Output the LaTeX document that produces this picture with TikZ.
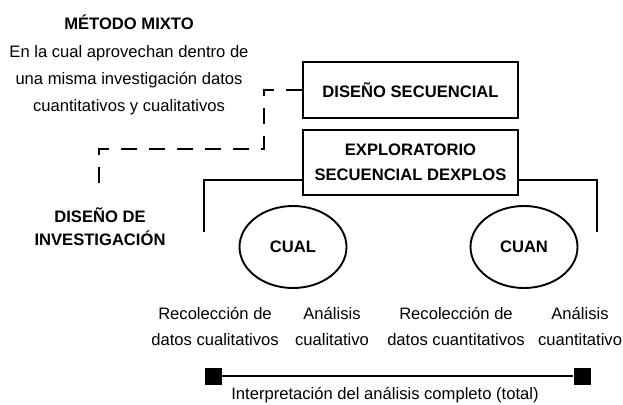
\documentclass[tikz,border=0pt]{standalone}
\usepackage{fontspec}
\setmainfont{Liberation Sans}
\usetikzlibrary{positioning,shapes.geometric}

\begin{document}
\begin{tikzpicture}[x=1pt, y=-1pt,
  font=\fontsize{16.6}{25}\selectfont,
  box/.style={draw, line width=2.2pt, align=center, font=\fontsize{16.6}{25}\selectfont\bfseries,
              minimum width=215pt, inner sep=2pt},
  oval/.style={ellipse, draw, line width=1.9pt, minimum width=107pt,
               minimum height=82pt, font=\fontsize{16.6}{25}\selectfont\bfseries},
  txt/.style={align=center, inner sep=1pt},
  ttl/.style={align=center, inner sep=1pt, font=\fontsize{16.6}{23}\selectfont\bfseries},
  sq/.style={fill=black, minimum size=17pt, inner sep=0pt},
  link/.style={line width=2pt},
  dashlink/.style={line width=2.6pt, dash pattern=on 16pt off 12pt}]
\useasboundingbox (0,0) rectangle (623,404);
\node[ttl] (metodo) at (129,22) {MÉTODO MIXTO};
\node[txt, font=\fontsize{16.6}{27}\selectfont] (desc) at (129,80)
  {En la cual aprovechan dentro de\\una misma investigación datos\\cuantitativos y cualitativos};
\node[ttl] (diseno) at (100,227) {DISEÑO DE\\INVESTIGACIÓN};
\node[box, minimum height=56pt] (secuencial) at (410.5,90) {DISEÑO SECUENCIAL};
\node[box, minimum height=65pt, below=10pt of secuencial] (explos)
  {EXPLORATORIO\\SECUENCIAL DEXPLOS};
\node[oval] (cual) at (293,247) {CUAL};
\node[oval] (cuan) at (524,247) {CUAN};
\node[txt, font=\fontsize{16.6}{26}\selectfont] (recolcual) at (215,326)
  {Recolección de\\datos cualitativos};
\node[txt, font=\fontsize{16.6}{26}\selectfont] (analcual) at (332,326)
  {Análisis\\cualitativo};
\node[txt, font=\fontsize{16.6}{26}\selectfont] (recolcuan) at (456,326)
  {Recolección de\\datos cuantitativos};
\node[txt, font=\fontsize{16.6}{26}\selectfont] (analcuan) at (580,326)
  {Análisis\\cuantitativo};
\node[sq] (sqa) at (213,376) {};
\node[sq] (sqb) at (582,376) {};
\node[txt] (interp) at (385,395) {Interpretación del análisis completo (total)};
\coordinate (bend) at (264,149);
\coordinate (dend) at (99,195);
\coordinate (legl) at (204,232);
\coordinate (legr) at (597,232);
\draw[dashlink] (secuencial.west) -| (bend) -| (dend);
\draw[link] (legl) |- ([yshift=-17pt]explos.west);
\draw[link] ([yshift=-17pt]explos.east) -| (legr);
\draw[link] (sqa) -- (sqb);
\end{tikzpicture}
\end{document}
